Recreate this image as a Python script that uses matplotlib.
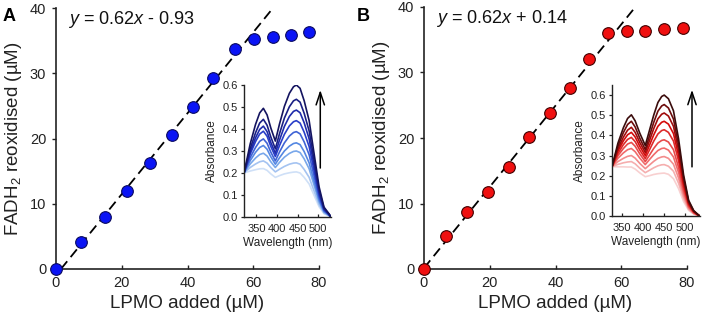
"""
FADH2 reoxidation by LPMO titration, two panels with spectra insets
"""
import numpy as np
import matplotlib
matplotlib.use('Agg')
import matplotlib.pyplot as plt
from matplotlib.colors import LinearSegmentedColormap

plt.rcParams['font.family'] = ['Liberation Sans', 'DejaVu Sans']
plt.rcParams['mathtext.fontset'] = 'custom'
plt.rcParams['mathtext.rm'] = 'Liberation Sans'
plt.rcParams['mathtext.it'] = 'Liberation Sans:italic'

# ---- titration data ----
lpmo_a = [0, 7.6, 14.9, 21.7, 28.6, 35.2, 41.6, 47.9, 54.4, 60.2, 65.9, 71.5, 77.1]
fadh_a = [0, 4.1, 8.0, 12.0, 16.3, 20.6, 24.8, 29.3, 33.7, 35.3, 35.6, 35.8, 36.3]
lpmo_b = [0, 6.6, 13.2, 19.5, 25.8, 31.9, 38.2, 44.3, 50.1, 56.0, 61.8, 67.3, 73.1, 78.8]
fadh_b = [0, 5.0, 8.7, 11.8, 15.6, 20.1, 23.8, 27.7, 32.0, 36.1, 36.4, 36.4, 36.7, 36.8]

fit_a = (0.62, -0.93)
fit_b = (0.62, 0.14)
fit_x_a = [1.5, 66.0]
fit_x_b = [0.0, 64.5]

eq_a = '$y$ = 0.62$x$ - 0.93'
eq_b = '$y$ = 0.62$x$ + 0.14'

# ---- inset spectra (absorbance vs wavelength), lightest -> darkest ----
wl_a = [320, 335, 348, 358, 367, 376, 385, 396, 406, 418, 430, 440, 447, 456, 466,
        478, 490, 502, 514, 526, 531]
spec_a = [
    [.20, .209, .215, .219, .22, .212, .196, .18, .188, .196, .201, .204, .205, .200, .180,
     .150, .098, .047, .015, .005, 0],
    [.20, .225, .241, .251, .255, .245, .225, .205, .217, .230, .240, .245, .246, .240, .216,
     .180, .118, .057, .018, .006, 0],
    [.20, .241, .268, .284, .29, .277, .251, .225, .248, .272, .289, .298, .30, .293, .264,
     .219, .144, .069, .023, .008, 0],
    [.20, .256, .294, .316, .325, .308, .274, .24, .269, .300, .322, .334, .337, .329, .297,
     .246, .162, .078, .025, .008, 0],
    [.20, .270, .316, .344, .355, .335, .295, .255, .295, .337, .368, .384, .388, .378, .341,
     .283, .186, .089, .029, .010, 0],
    [.20, .286, .343, .377, .39, .367, .321, .275, .324, .376, .414, .433, .438, .427, .385,
     .320, .210, .101, .033, .011, 0],
    [.20, .296, .360, .398, .413, .388, .339, .29, .349, .412, .457, .480, .486, .474, .428,
     .355, .233, .112, .036, .012, 0],
    [.20, .310, .383, .427, .444, .417, .364, .31, .378, .450, .501, .528, .535, .522, .471,
     .391, .257, .123, .040, .013, 0],
    [.20, .332, .421, .473, .494, .464, .405, .345, .422, .503, .562, .592, .60, .585, .528,
     .438, .288, .138, .045, .015, 0],
]
wl_b = [326, 340, 353, 363, 372, 381, 392, 405, 415, 425, 435, 444, 450, 460, 472,
        484, 496, 508, 520, 534]
spec_b = [
    [.245, .244, .244, .243, .243, .233, .214, .195, .200, .206, .210, .212, .213, .207, .185,
     .136, .072, .028, .010, 0],
    [.245, .256, .264, .268, .27, .259, .237, .215, .227, .239, .249, .254, .255, .247, .222,
     .163, .087, .033, .011, 0],
    [.245, .270, .286, .296, .30, .287, .261, .235, .253, .271, .286, .293, .295, .286, .257,
     .189, .100, .038, .013, 0],
    [.245, .286, .313, .329, .335, .319, .287, .255, .280, .304, .325, .335, .337, .327, .293,
     .216, .115, .044, .015, 0],
    [.245, .299, .335, .357, .365, .346, .308, .27, .302, .335, .362, .375, .378, .367, .329,
     .242, .129, .049, .017, 0],
    [.245, .310, .354, .380, .39, .369, .327, .285, .328, .371, .407, .424, .428, .415, .372,
     .274, .146, .056, .019, 0],
    [.245, .322, .373, .403, .415, .392, .346, .30, .351, .402, .445, .465, .47, .456, .409,
     .301, .160, .061, .021, 0],
    [.245, .333, .391, .426, .44, .415, .365, .315, .374, .433, .482, .505, .511, .496, .445,
     .327, .174, .066, .023, 0],
    [.245, .346, .414, .454, .47, .442, .386, .33, .397, .464, .520, .546, .553, .536, .481,
     .354, .188, .072, .025, 0],
    [.245, .361, .438, .484, .502, .472, .411, .35, .425, .50, .563, .593, .60, .582, .522,
     .384, .204, .078, .027, 0],
]

cmap_a = LinearSegmentedColormap.from_list('blues', ['#cfe0f7', '#5c94e6', '#2233c4', '#141460'])
cmap_b = LinearSegmentedColormap.from_list('reds', ['#f8d0d0', '#f06a6a', '#d40a0a', '#3b0c0c'])

fig = plt.figure(figsize=(7.09, 3.25), dpi=100)


def main_panel(rect, x, y, fit, fit_x, eq, face, edge, letter, letter_x):
    ax = fig.add_axes(rect)
    fx = np.array(fit_x)
    ax.plot(fx, fit[0] * fx + fit[1], color='black', lw=1.3, dashes=(5.5, 3), zorder=2)
    ax.plot(x, y, 'o', ms=8.4, mfc=face, mec=edge, mew=0.8, zorder=3, clip_on=False)
    ax.set_xlim(0, 80)
    ax.set_ylim(0, 40)
    ax.set_xticks([0, 20, 40, 60, 80])
    ax.set_yticks([0, 10, 20, 30, 40])
    for s in ['top', 'right']:
        ax.spines[s].set_visible(False)
    for s in ['left', 'bottom']:
        ax.spines[s].set_linewidth(1.2)
        ax.spines[s].set_color('#222222')
    ax.tick_params(axis='x', direction='in', length=3, width=1, labelsize=10.5,
                   colors='#222222', pad=5)
    ax.tick_params(axis='y', direction='out', length=3, width=1, labelsize=10.5,
                   colors='#222222', pad=4)
    ax.set_xlabel('LPMO added (µM)', fontsize=13.5, color='#222222', labelpad=4)
    ax.set_ylabel('FADH$_2$ reoxidised (µM)', fontsize=13.5, color='#222222', labelpad=4)
    ax.text(3.5, 38.2, eq, fontsize=13, va='center', ha='left', color='#111111')
    fig.text(letter_x, 0.975, letter, fontsize=13, fontweight='bold', va='top', ha='left')
    return ax


def inset_panel(rect, wl, spec, cmap, ylim, xlim, yticks, arrow_x, arrow_y):
    ax = fig.add_axes(rect)
    n = len(spec)
    for i, s in enumerate(spec):
        ax.plot(wl, s, color=cmap(i / (n - 1)), lw=1.2, solid_joinstyle='round')
    ax.set_xlim(*xlim)
    ax.set_ylim(*ylim)
    ax.set_xticks([350, 400, 450, 500])
    ax.set_yticks(yticks)
    ax.set_yticklabels([f'{t:.1f}' for t in yticks])
    for s in ['top', 'right']:
        ax.spines[s].set_visible(False)
    for s in ['left', 'bottom']:
        ax.spines[s].set_linewidth(1.0)
        ax.spines[s].set_color('#222222')
    ax.tick_params(axis='x', direction='in', length=2.5, width=0.9, labelsize=8,
                   colors='#222222', pad=5)
    ax.tick_params(axis='y', direction='out', length=2.5, width=0.9, labelsize=8,
                   colors='#222222', pad=2)
    ax.set_xlabel('Wavelength (nm)', fontsize=8.5, color='#222222', labelpad=2)
    ax.set_ylabel('Absorbance', fontsize=8.5, color='#222222', labelpad=3)
    ax.annotate('', xy=(arrow_x, arrow_y[1]), xytext=(arrow_x, arrow_y[0]),
                arrowprops=dict(arrowstyle='->,head_length=0.9,head_width=0.3',
                                color='black', lw=1.1))
    ax.patch.set_alpha(0)
    return ax


main_panel([56 / 709, 56 / 325, 263 / 709, 261 / 325], lpmo_a, fadh_a, fit_a, fit_x_a,
           eq_a, '#0a14f5', '#0a0a60', 'A', 0.003)
main_panel([424 / 709, 56 / 325, 263 / 709, 262 / 325], lpmo_b, fadh_b, fit_b, fit_x_b,
           eq_b, '#f01010', '#400000', 'B', 0.503)

inset_panel([244 / 709, 108 / 325, 87 / 709, 132 / 325], wl_a, spec_a, cmap_a,
            (0, 0.6), (320, 531), [0, 0.1, 0.2, 0.3, 0.4, 0.5, 0.6], 505, (0.21, 0.59))
inset_panel([612 / 709, 109 / 325, 88 / 709, 131 / 325], wl_b, spec_b, cmap_b,
            (0, 0.65), (326, 535), [0, 0.1, 0.2, 0.3, 0.4, 0.5, 0.6], 516, (0.23, 0.64))

fig.savefig('out.png', dpi=100)
